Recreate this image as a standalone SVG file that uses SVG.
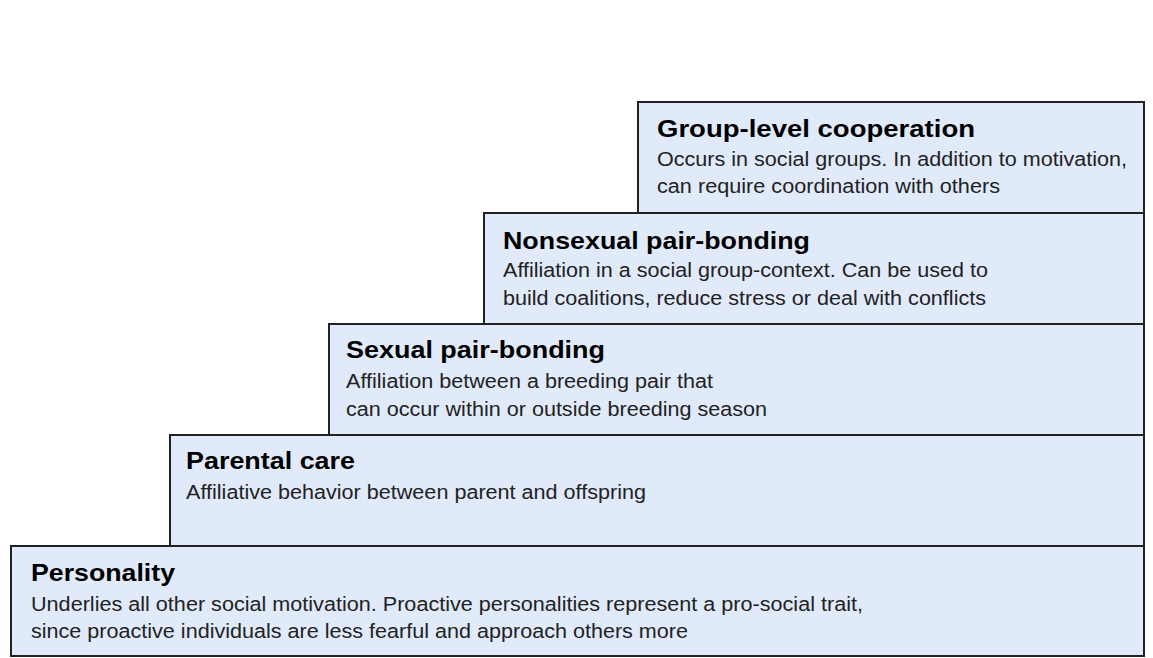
<svg xmlns="http://www.w3.org/2000/svg" width="1153" height="658" viewBox="0 0 1153 658">
<style>
.box{fill:#e0eafa;stroke:#222;stroke-width:2}
.t{font-family:"Liberation Sans",Arial,sans-serif;font-weight:bold;font-size:24px;fill:#000}
.b{font-family:"Liberation Sans",Arial,sans-serif;font-size:20px;fill:#222}
</style>
<rect width="1153" height="658" fill="#fff"/>
<g id="group-level">
<rect class="box" x="638" y="102" width="506" height="111"/>
<text class="t" x="657" y="137" textLength="318" lengthAdjust="spacingAndGlyphs">Group-level cooperation</text>
<text class="b" x="657" y="166" textLength="470" lengthAdjust="spacingAndGlyphs">Occurs in social groups. In addition to motivation,</text>
<text class="b" x="657" y="193" textLength="343" lengthAdjust="spacingAndGlyphs">can require coordination with others</text>
</g>
<g id="nonsexual">
<rect class="box" x="484" y="213" width="660" height="111"/>
<text class="t" x="503" y="249" textLength="307" lengthAdjust="spacingAndGlyphs">Nonsexual pair-bonding</text>
<text class="b" x="503" y="277" textLength="485" lengthAdjust="spacingAndGlyphs">Affiliation in a social group-context. Can be used to</text>
<text class="b" x="503" y="305" textLength="483" lengthAdjust="spacingAndGlyphs">build coalitions, reduce stress or deal with conflicts</text>
</g>
<g id="sexual">
<rect class="box" x="329" y="324" width="815" height="111"/>
<text class="t" x="346" y="358" textLength="259" lengthAdjust="spacingAndGlyphs">Sexual pair-bonding</text>
<text class="b" x="346" y="388" textLength="367" lengthAdjust="spacingAndGlyphs">Affiliation between a breeding pair that</text>
<text class="b" x="346" y="416" textLength="421" lengthAdjust="spacingAndGlyphs">can occur within or outside breeding season</text>
</g>
<g id="parental">
<rect class="box" x="170" y="435" width="974" height="111"/>
<text class="t" x="186" y="469" textLength="169" lengthAdjust="spacingAndGlyphs">Parental care</text>
<text class="b" x="186" y="499" textLength="460" lengthAdjust="spacingAndGlyphs">Affiliative behavior between parent and offspring</text>
</g>
<g id="personality">
<rect class="box" x="11" y="546" width="1133" height="110"/>
<text class="t" x="31" y="581" textLength="144" lengthAdjust="spacingAndGlyphs">Personality</text>
<text class="b" x="31" y="611" textLength="832" lengthAdjust="spacingAndGlyphs">Underlies all other social motivation. Proactive personalities represent a pro-social trait,</text>
<text class="b" x="31" y="638" textLength="657" lengthAdjust="spacingAndGlyphs">since proactive individuals are less fearful and approach others more</text>
</g>
<g id="connectors"></g>
</svg>
